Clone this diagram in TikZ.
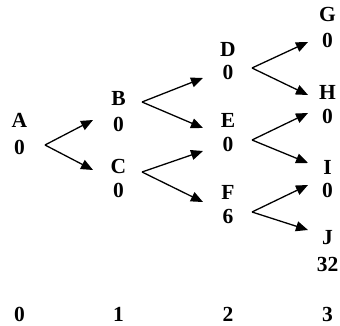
\documentclass[tikz,border=0pt]{standalone}
\usepackage{fontspec}
\setmainfont{Liberation Serif}
\usetikzlibrary{arrows.meta}

\tikzset{
  lbl/.style={anchor=base, inner sep=0pt, font=\fontsize{21.5}{25}\selectfont\bfseries},
  arr/.style={-{Triangle[length=12pt,width=10pt]}, line width=1.3pt},
}

\begin{document}
\begin{tikzpicture}[x=1pt,y=-1pt]
\useasboundingbox (0,0) rectangle (340,326);

% States and their values
\foreach \n/\x/\y/\t in {A/19.5/128/A, vA/19.5/154/0,
    B/118.5/106/B, vB/118.5/131.5/0, C/118.5/173/C, vC/118.5/197.5/0,
    D/228/57/D, vD/228/79.5/0, E/228/127.5/E, vE/228/151.5/0,
    F/228/199.5/F, vF/228/223.5/6,
    G/327.5/21.5/G, vG/327.5/47.5/0, H/327.5/99.5/H, vH/327.5/123.5/0,
    I/327.5/174.5/I, vI/327.5/197.5/0, J/327.5/244.5/J, vJ/327.5/271.5/32}
{
    \node[lbl] (\n) at (\x,\y) {\t};
}

% Stage numbers
\foreach \k/\x in {0/19.5, 1/118.5, 2/228, 3/327.5}
{
    \node[lbl] (s\k) at (\x,321) {\k};
}

% Fork points and arrow ends
\foreach \s/\x/\y in {A/45/145, B/142/102, C/142/172, D/252/68, E/252/140, F/252/212}
{
    \coordinate (\s-fork) at (\x,\y);
}
\foreach \e/\x/\y in {A-B/93/120, A-C/93/170, B-D/203/78, B-E/203/128,
    C-E/203/151, C-F/203/202, D-G/308/42, D-H/308/95,
    E-H/308/113, E-I/308/163, F-I/308/185, F-J/308/230}
{
    \coordinate (\e) at (\x,\y);
}

% Transitions
\foreach \s/\t in {A/B, A/C, B/D, B/E, C/E, C/F, D/G, D/H, E/H, E/I, F/I, F/J}
{
    \draw[arr] (\s-fork) -- (\s-\t);
}

\end{tikzpicture}
\end{document}
